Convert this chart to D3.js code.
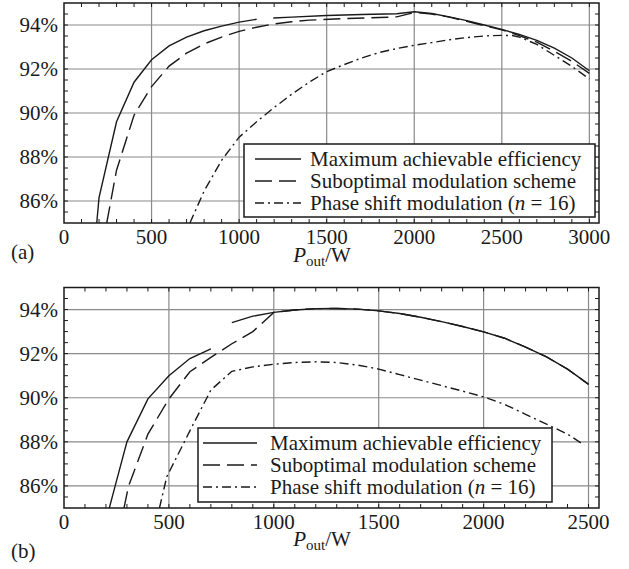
<!DOCTYPE html>
<html>
<head>
<meta charset="utf-8">
<script src="https://cdn.jsdelivr.net/npm/d3@7/dist/d3.min.js"></script>
<style>
  body { margin: 0; background: #fff; }
  svg text { font-family: "Liberation Serif", "Times New Roman", Times, "DejaVu Serif", serif; fill: #1a1a1a; }
</style>
</head>
<body>
<svg id="chart" width="629" height="569" font-family="Liberation Serif, DejaVu Serif, serif"></svg>
<script>
// ---- panel (a) ----
var pA_max = [187, 200, 300, 400, 500, 600, 700, 800, 900, 1000, 1100, 1150, 1195, 1300, 1500, 1700, 1900, 2000, 2100, 2200, 2300, 2400, 2500, 2600, 2700, 2800, 2900, 3000];
var etaA_max = [85.0, 86.15, 89.6, 91.4, 92.42, 93.05, 93.45, 93.74, 93.95, 94.13, 94.26, null, 94.32, 94.36, 94.43, 94.48, 94.51, 94.6, 94.52, 94.37, 94.2, 94.0, 93.8, 93.57, 93.3, 92.95, 92.5, 91.92];

var pA_sub = [244, 300, 400, 500, 600, 700, 800, 900, 1000, 1100, 1200, 1300, 1400, 1600, 1800, 1900, 2000, 2100, 2200, 2300, 2400, 2500, 2600, 2700, 2800, 2900, 3000];
var etaA_sub = [85.0, 87.4, 89.9, 91.2, 92.13, 92.72, 93.14, 93.45, 93.71, 93.9, 94.05, 94.15, 94.22, 94.29, 94.34, 94.37, 94.57, 94.5, 94.36, 94.17, 93.97, 93.78, 93.52, 93.22, 92.8, 92.35, 91.8];

var pA_psm = [719, 800, 900, 1000, 1100, 1200, 1300, 1400, 1500, 1600, 1700, 1800, 1900, 2000, 2100, 2200, 2300, 2400, 2500, 2560, 2600, 2700, 2800, 2900, 3000];
var etaA_psm = [85.0, 86.45, 87.85, 88.9, 89.6, 90.25, 90.85, 91.4, 91.88, 92.2, 92.5, 92.75, 92.93, 93.08, 93.2, 93.33, 93.43, 93.5, 93.53, 93.52, 93.45, 93.12, 92.62, 92.12, 91.55];

// ---- panel (b) ----
var pB_max = [216, 243, 300, 400, 500, 600, 700, 750, 800, 900, 1000, 1100, 1200, 1300, 1400, 1500, 1600, 1700, 1800, 1900, 2000, 2100, 2200, 2300, 2400, 2500];
var etaB_max = [85.0, 85.97, 88.0, 89.95, 91.0, 91.78, 92.22, null, 93.41, 93.7, 93.87, 93.98, 94.04, 94.05, 94.02, 93.94, 93.82, 93.65, 93.45, 93.23, 92.99, 92.7, 92.3, 91.85, 91.3, 90.62];

var pB_sub = [286, 307, 400, 500, 600, 700, 800, 900, 1000, 1100, 1200, 1300, 1400, 1500, 1600, 1700, 1800, 1900, 2000, 2100, 2200, 2300, 2400, 2500];
var etaB_sub = [85.0, 85.97, 88.35, 89.95, 91.18, 91.83, 92.45, 93.0, 93.87, 93.98, 94.04, 94.05, 94.02, 93.94, 93.82, 93.65, 93.45, 93.23, 92.99, 92.7, 92.3, 91.85, 91.3, 90.6];

var pB_psm = [455, 490, 600, 700, 800, 900, 1000, 1100, 1200, 1300, 1400, 1500, 1600, 1700, 1800, 1900, 2000, 2100, 2200, 2300, 2400, 2480];
var etaB_psm = [85.0, 86.42, 88.5, 90.35, 91.2, 91.4, 91.52, 91.6, 91.63, 91.6, 91.48, 91.3, 91.05, 90.8, 90.55, 90.3, 90.04, 89.7, 89.25, 88.8, 88.35, 87.85];

var yTicks = [86, 88, 90, 92, 94];
var xTicksA = [0, 500, 1000, 1500, 2000, 2500, 3000];
var xTicksB = [0, 500, 1000, 1500, 2000, 2500];
var legendLabels = ["Maximum achievable efficiency", "Suboptimal modulation scheme", "Phase shift modulation ("];

var dashes = [null, "17,7", "9,4,2,4"];
var serif = '"Liberation Serif", "Times New Roman", "DejaVu Serif", serif';

var svg = d3.select('#chart');

function zip(p, eta){
  return p.map((v, i) => ({ p: v, eta: eta[i] }));
}

function drawPanel(svg, cfg){
  var x = d3.scaleLinear().domain([0, cfg.xMax]).range([64, 599]);
  var y = d3.scaleLinear().domain([85, 95]).range([cfg.bottom, cfg.top]);
  var g = svg.append('g').style('font-family', serif);

  var clipId = 'clip-' + cfg.tag.replace(/\W/g, '');
  g.append('clipPath').attr('id', clipId)
    .append('rect')
      .attr('x', x(0)).attr('y', y(95))
      .attr('width', x(cfg.xMax) - x(0)).attr('height', y(85) - y(95));

  // grid
  g.selectAll('.vgrid').data(cfg.xTicks.filter(d => d > 0)).enter()
    .append('line')
      .attr('x1', d => x(d)).attr('x2', d => x(d))
      .attr('y1', y(95)).attr('y2', y(85))
      .attr('stroke', '#8a8a8a').attr('stroke-width', 1.2);
  g.selectAll('.hgrid').data(yTicks).enter()
    .append('line')
      .attr('x1', x(0)).attr('x2', x(cfg.xMax))
      .attr('y1', d => y(d)).attr('y2', d => y(d))
      .attr('stroke', '#8a8a8a').attr('stroke-width', 1.2);

  // curves
  var line = d3.line()
    .defined(d => d.eta != null)
    .x(d => x(d.p))
    .y(d => y(d.eta));

  cfg.series.forEach((s, i) => {
    g.append('path')
      .datum(zip(s[0], s[1]))
      .attr('clip-path', 'url(#' + clipId + ')')
      .attr('d', line)
      .attr('fill', 'none')
      .attr('stroke', '#1a1a1a')
      .attr('stroke-width', 1.4)
      .attr('stroke-dasharray', dashes[i]);
  });

  // legend
  var L = cfg.legend;
  g.append('rect')
    .attr('x', L.x).attr('y', L.y).attr('width', L.w).attr('height', L.h)
    .attr('fill', '#fff').attr('stroke', '#1a1a1a').attr('stroke-width', 1.5);
  legendLabels.forEach((lab, i) => {
    var ly = L.y + 15 + i * 22;
    g.append('line')
      .attr('x1', L.lx1).attr('x2', L.lx2).attr('y1', ly).attr('y2', ly)
      .attr('stroke', '#1a1a1a').attr('stroke-width', 1.4)
      .attr('stroke-dasharray', dashes[i]);
    var t = g.append('text')
      .attr('x', L.tx).attr('y', ly + 7)
      .attr('font-size', 21);
    t.append('tspan').text(lab);
    if (i === 2) {
      t.append('tspan').attr('font-style', 'italic').text('n');
      t.append('tspan').text(' = 16)');
    }
  });

  // frame + ticks
  g.append('rect')
    .attr('x', x(0)).attr('y', y(95))
    .attr('width', x(cfg.xMax) - x(0)).attr('height', y(85) - y(95))
    .attr('fill', 'none').attr('stroke', '#1a1a1a').attr('stroke-width', 1.5);

  var minorX = d3.range(100, cfg.xMax, 100);
  var minorY = d3.range(85.5, 95, 0.5);
  minorX.forEach(v => {
    g.append('line').attr('x1', x(v)).attr('x2', x(v)).attr('y1', y(85)).attr('y2', y(85) - 4)
      .attr('stroke', '#1a1a1a').attr('stroke-width', 1);
    g.append('line').attr('x1', x(v)).attr('x2', x(v)).attr('y1', y(95)).attr('y2', y(95) + 4)
      .attr('stroke', '#1a1a1a').attr('stroke-width', 1);
  });
  minorY.forEach(v => {
    g.append('line').attr('x1', x(0)).attr('x2', x(0) + 4).attr('y1', y(v)).attr('y2', y(v))
      .attr('stroke', '#1a1a1a').attr('stroke-width', 1);
    g.append('line').attr('x1', x(cfg.xMax)).attr('x2', x(cfg.xMax) - 4).attr('y1', y(v)).attr('y2', y(v))
      .attr('stroke', '#1a1a1a').attr('stroke-width', 1);
  });

  // tick labels
  g.selectAll('.xl').data(cfg.xTicks).enter()
    .append('text')
      .attr('x', d => x(d)).attr('y', y(85) + 21)
      .attr('text-anchor', 'middle').attr('font-size', 21)
      .text(d => d);
  g.selectAll('.yl').data(yTicks).enter()
    .append('text')
      .attr('x', 58).attr('y', d => y(d) + 7)
      .attr('text-anchor', 'end').attr('font-size', 21)
      .text(d => d + '%');

  // axis title + panel tag
  var xt = g.append('text')
    .attr('x', 322).attr('y', cfg.labelY)
    .attr('text-anchor', 'middle').attr('font-size', 21);
  xt.append('tspan').attr('font-style', 'italic').text('P');
  xt.append('tspan').attr('font-size', 15).attr('dy', 4).text('out');
  xt.append('tspan').attr('dy', -4).text('/W');

  g.append('text')
    .attr('x', 11).attr('y', cfg.tagY)
    .attr('font-size', 21)
    .text(cfg.tag);
}

drawPanel(svg, {
  top: 3, bottom: 223, xMax: 3055, xTicks: xTicksA,
  series: [[pA_max, etaA_max], [pA_sub, etaA_sub], [pA_psm, etaA_psm]],
  legend: { x: 244, y: 144, w: 351, h: 73, lx1: 255, lx2: 301, tx: 310 },
  tag: '(a)', tagY: 259, labelY: 262
});

drawPanel(svg, {
  top: 287.5, bottom: 508, xMax: 2550, xTicks: xTicksB,
  series: [[pB_max, etaB_max], [pB_sub, etaB_sub], [pB_psm, etaB_psm]],
  legend: { x: 198, y: 428, w: 354, h: 74, lx1: 203, lx2: 257, tx: 270 },
  tag: '(b)', tagY: 558, labelY: 546
});
</script>
</body>
</html>
